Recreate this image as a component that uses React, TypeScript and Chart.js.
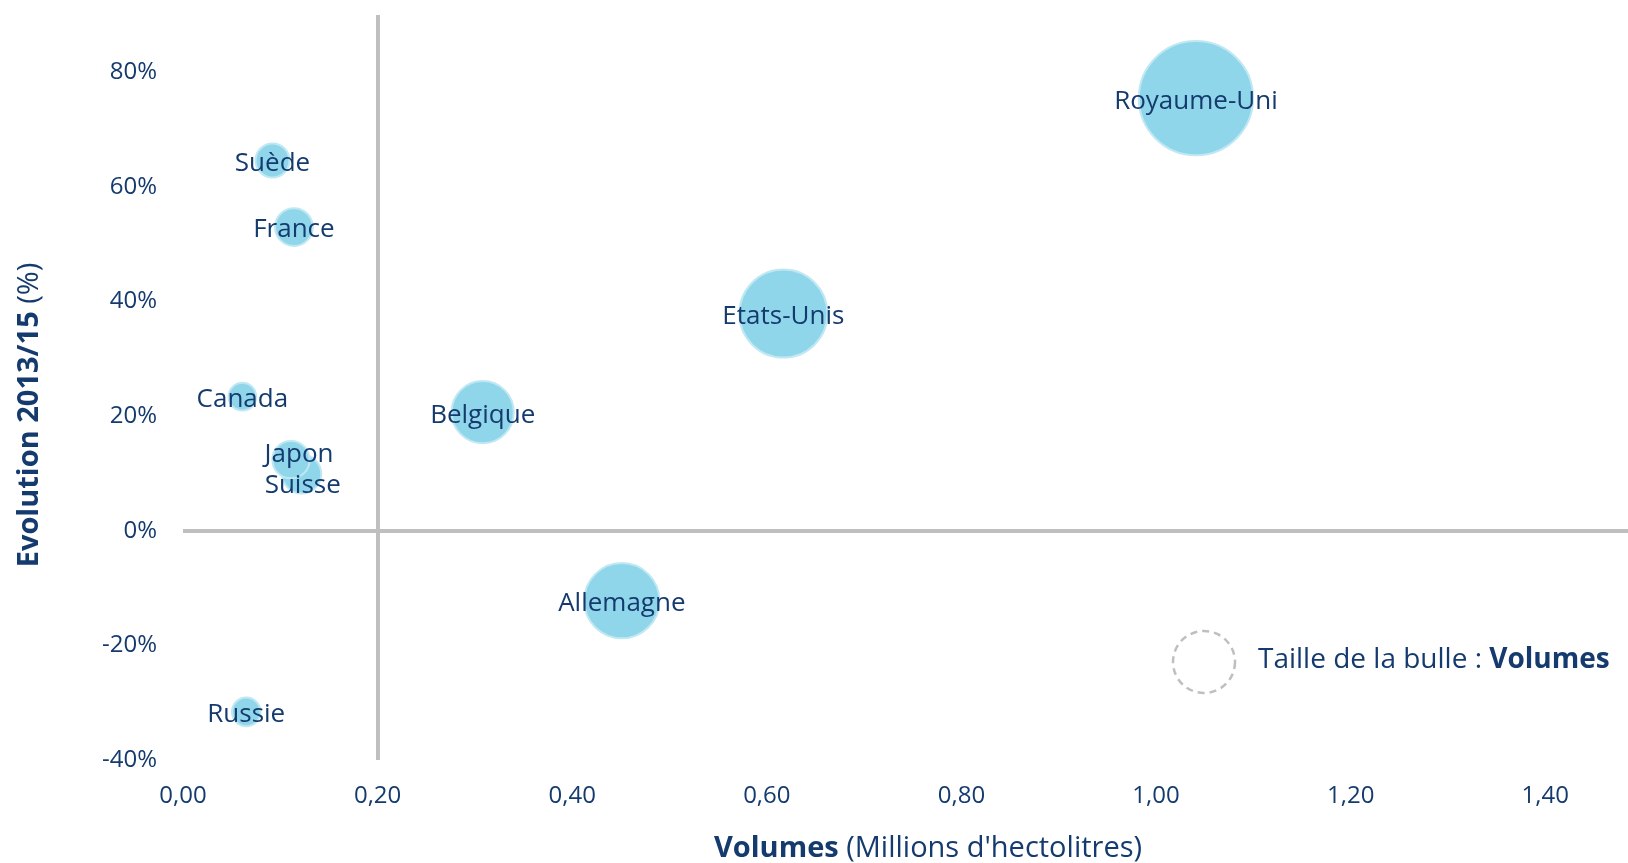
import React, { useEffect, useRef } from 'react';
import { Chart, registerables } from 'chart.js';

Chart.register(...registerables);

// ---- Data ----
const countries = ['Royaume-Uni', 'Etats-Unis', 'Allemagne', 'Belgique', 'France', 'Suède', 'Suisse', 'Japon', 'Canada', 'Russie'];
const volumes = [1.041, 0.617, 0.451, 0.308, 0.114, 0.092, 0.122, 0.111, 0.061, 0.065]; // millions d'hl
const evolution = [75.5, 37.9, -12.2, 20.7, 53.0, 64.6, 9.9, 12.4, 23.4, -31.6]; // %

const xTickStep = 0.2;
const yTickStep = 20;
const xMin = 0;
const xMax = 1.485;
const yMin = -40;
const yMax = 90;
const xCross = 0.2;
const yCross = 0;

// ---- Style ----
const FONT = '"Open Sans", sans-serif';
const NAVY = '#153B6E';
const AXIS_GREY = '#BFBFBF';
const BUBBLE_FILL = 'rgb(144,214,234)';
const BUBBLE_EDGE = 'rgb(192,232,243)';
const BUBBLE_SCALE = 56;
const LABEL_DY = 3;
const LABEL_OFFSETS: Record<string, [number, number]> = {
  Japon: [8, -8],
  Suisse: [1, 9],
};

const zeroPadding = (s: any) => {
  s.paddingTop = 0;
  s.paddingBottom = 0;
  s.paddingLeft = 0;
  s.paddingRight = 0;
};

export default function App() {
  const ref = useRef<HTMLCanvasElement>(null);

  useEffect(() => {
    if (!ref.current) return;

    const labelsPlugin = {
      id: 'bubbleLabels',
      afterDatasetsDraw(chart: any) {
        const ctx = chart.ctx;
        const meta = chart.getDatasetMeta(0);
        ctx.save();
        ctx.font = `26px ${FONT}`;
        ctx.fillStyle = NAVY;
        ctx.textAlign = 'center';
        ctx.textBaseline = 'middle';
        meta.data.forEach((el: any, i: number) => {
          const off = LABEL_OFFSETS[countries[i]] || [0, 0];
          ctx.fillText(countries[i], el.x + off[0], el.y + off[1] + LABEL_DY);
        });
        ctx.restore();
      },
    };

    const drawMixed = (ctx: CanvasRenderingContext2D, parts: { t: string; bold: boolean }[], size: number) => {
      const widths = parts.map((p) => {
        ctx.font = `${p.bold ? 'bold ' : ''}${size}px ${FONT}`;
        return ctx.measureText(p.t).width;
      });
      const total = widths.reduce((a, b) => a + b, 0);
      let x = -total / 2;
      parts.forEach((p, i) => {
        ctx.font = `${p.bold ? 'bold ' : ''}${size}px ${FONT}`;
        ctx.fillText(p.t, x, 0);
        x += widths[i];
      });
    };

    const decorPlugin = {
      id: 'decor',
      afterDraw(chart: any) {
        const ctx: CanvasRenderingContext2D = chart.ctx;
        ctx.save();
        ctx.fillStyle = NAVY;
        ctx.textAlign = 'left';
        ctx.textBaseline = 'middle';
        // X title
        ctx.save();
        ctx.translate(928, 849);
        drawMixed(ctx, [{ t: 'Volumes', bold: true }, { t: " (Millions d'hectolitres)", bold: false }], 29);
        ctx.restore();
        // Y title
        ctx.save();
        ctx.translate(30, 415);
        ctx.rotate(-Math.PI / 2);
        drawMixed(ctx, [{ t: 'Evolution 2013/15', bold: true }, { t: ' (%)', bold: false }], 29);
        ctx.restore();
        // Size legend
        ctx.beginPath();
        ctx.setLineDash([7, 5]);
        ctx.lineWidth = 2.5;
        ctx.strokeStyle = AXIS_GREY;
        ctx.arc(1204, 662, 31, 0, Math.PI * 2);
        ctx.stroke();
        ctx.setLineDash([]);
        ctx.textAlign = 'left';
        ctx.font = `28px ${FONT}`;
        const t1 = 'Taille de la bulle : ';
        ctx.fillText(t1, 1258, 660);
        const w1 = ctx.measureText(t1).width;
        ctx.font = `bold 28px ${FONT}`;
        ctx.fillText('Volumes', 1258 + w1, 660);
        ctx.restore();
      },
    };

    const chart = new Chart(ref.current, {
      type: 'bubble',
      data: {
        datasets: [
          {
            label: 'Pays',
            data: countries.map((_, i) => ({
              x: volumes[i],
              y: evolution[i],
              r: BUBBLE_SCALE * Math.sqrt(volumes[i]),
            })),
            backgroundColor: BUBBLE_FILL,
            borderColor: BUBBLE_EDGE,
            borderWidth: 2,
            hoverRadius: 0,
            clip: false,
          },
        ],
      },
      options: {
        animation: false,
        responsive: true,
        maintainAspectRatio: false,
        layout: { autoPadding: false, padding: { top: 15, right: 0, left: 0, bottom: 0 } },
        plugins: {
          legend: { display: false },
          tooltip: { enabled: false },
          title: { display: false },
        },
        scales: {
          x: {
            type: 'linear',
            min: xMin,
            max: xMax,
            afterFit: (s: any) => {
              s.height = 103;
              zeroPadding(s);
            },
            border: { display: false },
            grid: {
              drawTicks: false,
              lineWidth: 4,
              color: (c: any) => (c.tick && Math.abs(c.tick.value - xCross) < 1e-9 ? AXIS_GREY : 'rgba(0,0,0,0)'),
            },
            ticks: {
              stepSize: xTickStep,
              includeBounds: false,
              padding: 22,
              color: NAVY,
              font: { family: FONT, size: 24 },
              maxRotation: 0,
              callback: (v: any) => Number(v).toFixed(2).replace('.', ','),
            },
          },
          y: {
            type: 'linear',
            min: yMin,
            max: yMax,
            afterFit: (s: any) => {
              s.width = 183;
              zeroPadding(s);
            },
            border: { display: false },
            grid: {
              drawTicks: false,
              lineWidth: 4,
              color: (c: any) => (c.tick && Math.abs(c.tick.value - yCross) < 1e-9 ? AXIS_GREY : 'rgba(0,0,0,0)'),
            },
            ticks: {
              stepSize: yTickStep,
              includeBounds: false,
              padding: 26,
              color: NAVY,
              font: { family: FONT, size: 24 },
              callback: (v: any) => `${v}%`,
            },
          },
        },
      },
      plugins: [labelsPlugin, decorPlugin],
    });

    return () => chart.destroy();
  }, []);

  return (
    <div style={{ position: 'absolute', left: 0, top: 0, width: 1628, height: 863 }}>
      <canvas ref={ref} />
    </div>
  );
}
